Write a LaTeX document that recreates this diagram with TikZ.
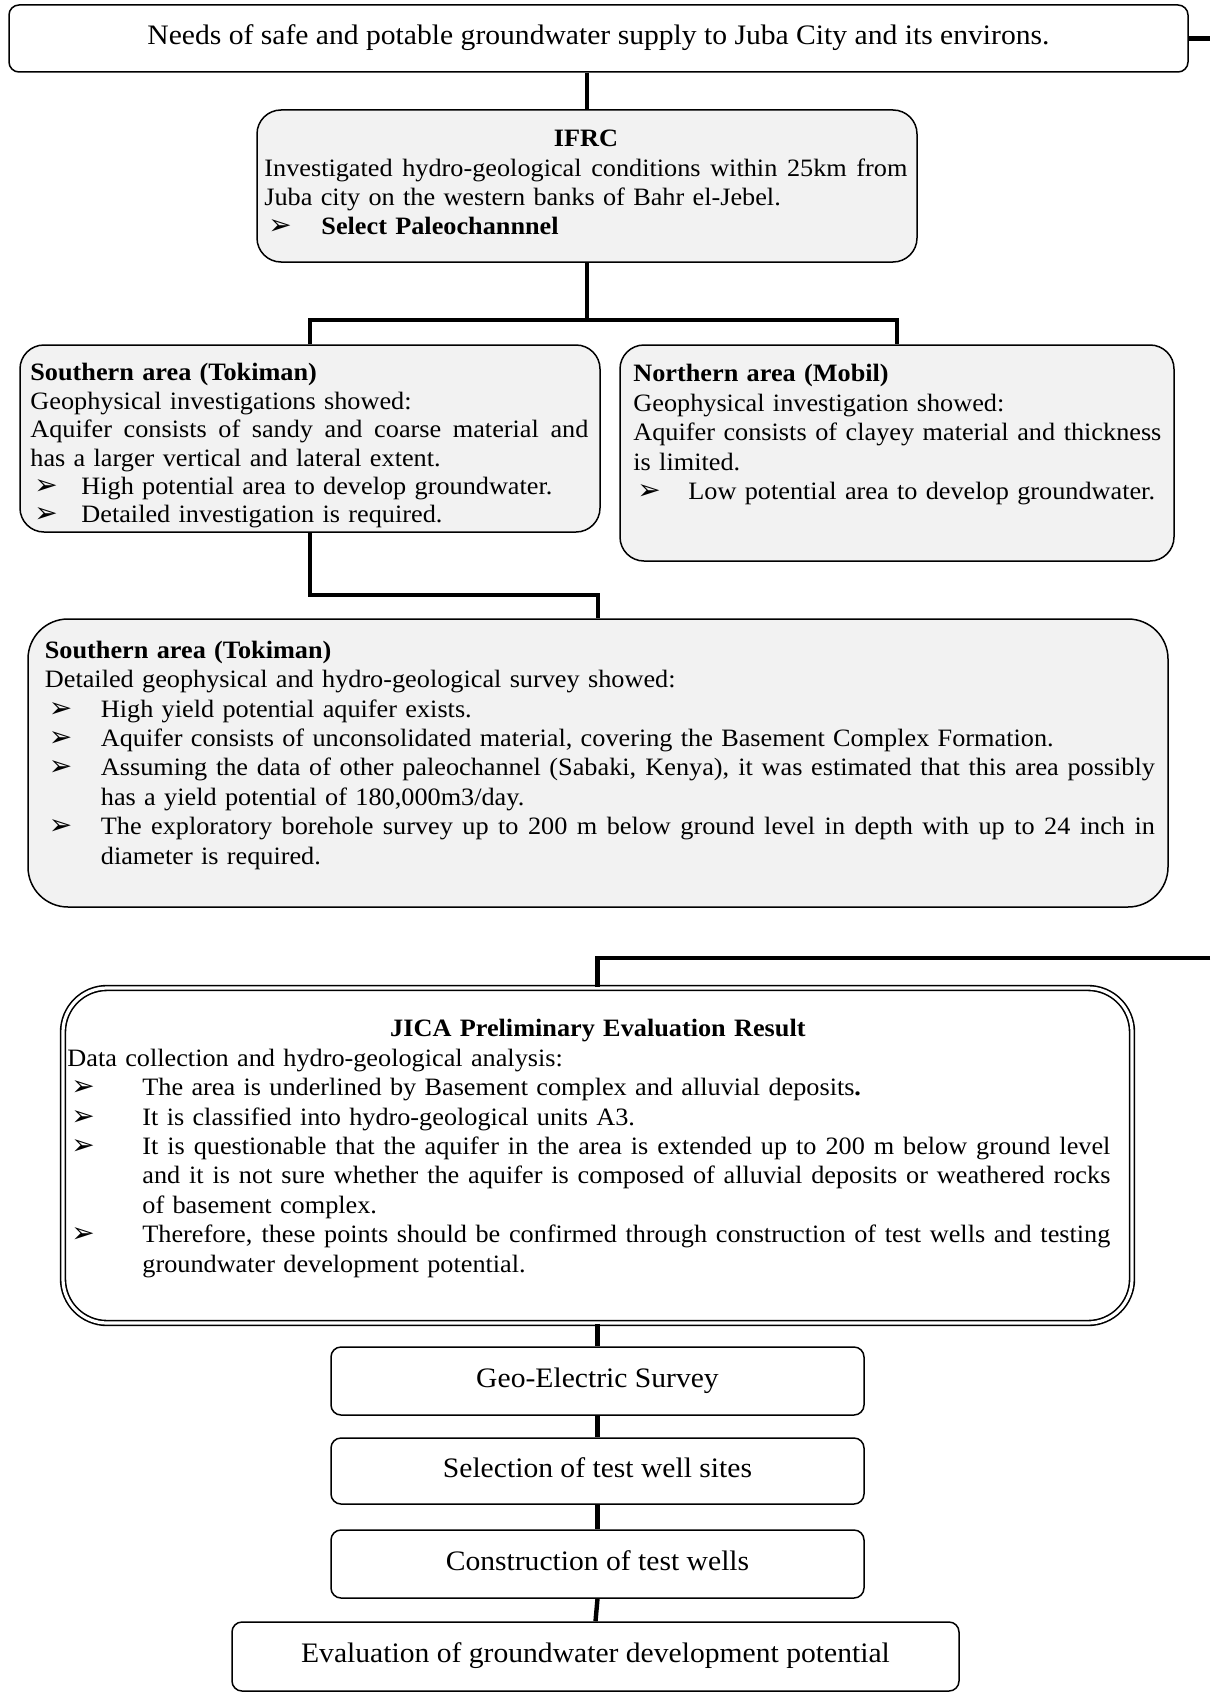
\documentclass[tikz,border=0pt]{standalone}
\usepackage{fontspec}
\setmainfont{Liberation Serif}[FakeStretch=1.05]
\newfontfamily\bulfont{DejaVu Sans}
\definecolor{boxgray}{HTML}{F2F2F2}
\newcommand\bodyfont{\fontsize{12.5pt}{14.7pt}\selectfont}
\newcommand\bigfont{\fontsize{14.1pt}{16pt}\selectfont}
\newlength\bind
\newlength\bw
\newcommand\bmark{\hbox to\bind{\hskip2pt{\bulfont\fontsize{14pt}{10pt}\selectfont ➢}\hfil}}
\newcommand\jsp{\spaceskip=\fontdimen2\font plus 3\fontdimen2\font minus .25\fontdimen2\font\relax}
\newcommand\LJ[1]{\par\noindent\hbox to\bw{\jsp\strut#1}}
\newcommand\LR[1]{\par\noindent\hbox to\bw{\strut#1\hfil}}
\newcommand\LC[1]{\par\noindent\hbox to\bw{\hfil\strut#1\hfil}}
\newcommand\BJ[1]{\LJ{\bmark#1}}
\newcommand\BR[1]{\LR{\bmark#1}}
\newcommand\KJ[1]{\LJ{\hskip\bind#1}}
\newcommand\KR[1]{\LR{\hskip\bind#1}}
\tikzset{
  rbox/.style={draw, line width=0.75pt, rounded corners=#1, inner sep=0pt, fill=white, font=\bigfont},
  gbox/.style={rbox=#1, fill=boxgray},
  jbox/.style={draw, line width=0.8pt, double, double distance=1.6pt, rounded corners=#1, inner sep=0pt, fill=white},
  conn/.style={line width=2.2pt},
  txt/.style={inner sep=0pt, anchor=north west, font=\bodyfont}
}
\begin{document}
\begin{tikzpicture}[x=0.5pt,y=-0.5pt]
\useasboundingbox (0,0) rectangle (1210,1702);
% boxes
\node[rbox=5pt, minimum width=589.5pt, minimum height=33.5pt] (top) at (598.5,38.5)
  {\strut Needs of safe and potable groundwater supply to Juba City and its environs.};
\node[gbox=12pt, minimum width=330pt, minimum height=76pt] (ifrc) at (587,186) {};
\node[gbox=12pt, minimum width=290pt, minimum height=93.5pt] (s1) at (310,438.5) {};
\node[gbox=12pt, minimum width=277pt, minimum height=108pt] (n1) at (897,453) {};
\node[gbox=20pt, minimum width=570pt, minimum height=144pt] (det) at (598,763) {};
\node[jbox=22pt, minimum width=534.5pt, minimum height=167.5pt] (jica) at (597.5,1155.5) {};
\node[rbox=5pt, minimum width=266.5pt, minimum height=34pt] (geo) at (597.5,1381) {\strut Geo-Electric Survey};
\node[rbox=5pt, minimum width=266.5pt, minimum height=33pt] (sel) at (597.5,1471) {\strut Selection of test well sites};
\node[rbox=5pt, minimum width=266.5pt, minimum height=34pt] (con) at (597.5,1564) {\strut Construction of test wells};
\node[rbox=5pt, minimum width=363.5pt, minimum height=34.5pt] (eval) at (595.5,1656.5) {\strut Evaluation of groundwater development potential};
% texts
\node[txt, text width=321.5pt] (ifrct) at (264,117) {\setlength\bind{28.5pt}\setlength\bw{321.5pt}%
\LC{\textbf{IFRC}}
\LJ{Investigated hydro-geological conditions within 25km from}
\LR{Juba city on the western banks of Bahr el-Jebel.}
\BR{\textbf{Select Paleochannnel}}};
\node[txt, text width=279pt, font=\fontsize{12.5pt}{14.2pt}\selectfont] (s1t) at (30,352) {\setlength\bind{25.5pt}\setlength\bw{279pt}%
\LR{\textbf{Southern area (Tokiman)}}
\LR{Geophysical investigations showed:}
\LJ{Aquifer consists of sandy and coarse material and}
\LR{has a larger vertical and lateral extent.}
\BR{High potential area to develop groundwater.}
\BR{Detailed investigation is required.}};
\node[txt, text width=264pt] (n1t) at (633,352) {\setlength\bind{27.5pt}\setlength\bw{264pt}%
\LR{\textbf{Northern area (Mobil)}}
\LR{Geophysical investigation showed:}
\LJ{Aquifer consists of clayey material and thickness}
\LR{is limited.}
\BR{Low potential area to develop groundwater.}};
\node[txt, text width=555pt] (dett) at (44.5,628.5) {\setlength\bind{28pt}\setlength\bw{555pt}%
\LR{\textbf{Southern area (Tokiman)}}
\LR{Detailed geophysical and hydro-geological survey showed:}
\BR{High yield potential aquifer exists.}
\BR{Aquifer consists of unconsolidated material, covering the Basement Complex Formation.}
\BJ{Assuming the data of other paleochannel (Sabaki, Kenya), it was estimated that this area possibly}
\KR{has a yield potential of 180,000m3/day.}
\BJ{The exploratory borehole survey up to 200 m below ground level in depth with up to 24 inch in}
\KR{diameter is required.}};
\node[txt, text width=521.5pt] (jicat) at (67,1007) {\setlength\bind{37.5pt}\setlength\bw{521.5pt}%
\LC{\hskip9pt\textbf{JICA Preliminary Evaluation Result}}
\LR{Data collection and hydro-geological analysis:}
\BR{The area is underlined by Basement complex and alluvial deposits\textbf{.}}
\BR{It is classified into hydro-geological units A3.}
\BJ{It is questionable that the aquifer in the area is extended up to 200 m below ground level}
\KJ{and it is not sure whether the aquifer is composed of alluvial deposits or weathered rocks}
\KR{of basement complex.}
\BJ{Therefore, these points should be confirmed through construction of test wells and testing}
\KR{groundwater development potential.}};
% connectors
\coordinate (redge1) at (1210,38.5);
\coordinate (br1) at (587,320);
\coordinate (br2) at (598,595);
\coordinate (redge2) at (1210,958);
\draw[conn] (top.east) -- (redge1);
\draw[conn] (ifrc.north |- top.south) -- (ifrc.north);
\draw[conn] (ifrc.south) -- (br1);
\draw[conn] (s1.north) -- (s1.north |- br1) -- (n1.north |- br1) -- (n1.north);
\draw[conn] (s1.south) -- (s1.south |- br2) -- (br2) -- (det.north);
\draw[conn] (redge2) -- (jica.north |- redge2) -- (jica.north);
\draw[conn] (jica.south) -- (geo.north);
\draw[conn] (geo.south) -- (sel.north);
\draw[conn] (sel.south) -- (con.north);
\draw[conn] (con.south) -- (eval.north);
\end{tikzpicture}
\end{document}
